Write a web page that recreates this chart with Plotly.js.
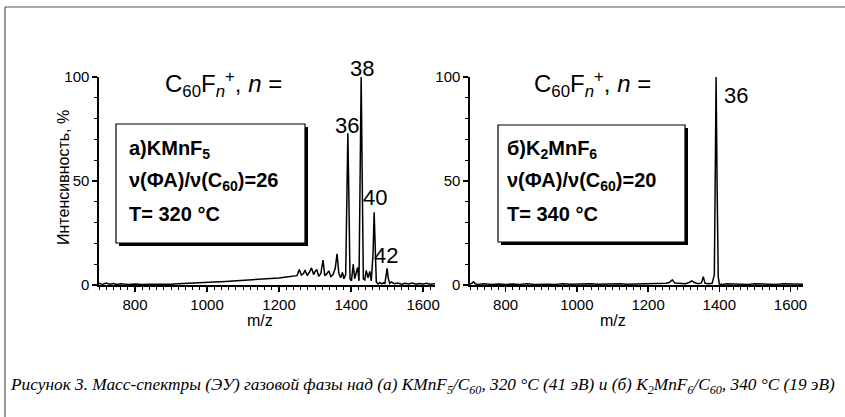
<!DOCTYPE html>
<html><head><meta charset="utf-8">
<script src="https://cdn.plot.ly/plotly-3.0.1.min.js"></script>
<style>html,body{margin:0;padding:0;background:#fff;}#chart{width:845px;height:417px;}</style>
</head><body><div id="chart"></div>
<script>
// Spectrum (a) KMnF5, 320 °C
const mzA = [700,710,720,730,740,750,760,780,800,820,840,860,880,900,920,940,960,980,1000,1020,1040,1060,1080,1100,1120,1140,1160,1180,1200,1220,1240,1250,1256,1262,1268,1272,1278,1284,1290,1296,1300,1305,1310,1316,1322,1327,1332,1338,1344,1350,1356,1361,1366,1371,1376,1380,1385,1388,1391,1394,1397,1401,1406,1410,1414,1418,1422,1425,1428,1431,1434,1438,1442,1447,1452,1456,1461,1464,1467,1470,1475,1480,1485,1490,1494,1497,1500,1503,1507,1512,1520,1530,1540,1550,1560,1570,1580,1590,1600,1610,1620,1633];
const intA = [0.8,0.3,0.9,0.4,0.7,0.2,0.6,0.3,0.5,0.2,0.4,0.3,0.5,0.4,0.6,0.7,0.9,1.0,1.2,1.4,1.6,1.8,2.0,2.3,2.5,2.8,3.0,3.1,3.4,3.8,4.2,4.5,7.5,4.8,5.5,7.2,4.6,6.0,8.2,5.0,6.5,7.4,4.2,5.5,12.0,4.5,5.2,6.8,4.0,5.0,8.0,15.0,5.5,3.5,6.0,3.0,5.0,35,73,40,3.0,2.0,10.0,3.0,6.0,8.5,2.0,40,100,50,3.0,2.5,7.0,3.5,6.5,2.0,15,35,18,1.5,0.5,1.2,0.5,1.0,0.8,4.0,8.0,3.5,0.8,1.5,0.6,1.0,0.4,0.8,0.5,0.9,0.4,0.7,0.5,0.8,0.4,0.6];
// Spectrum (б) K2MnF6, 340 °C
const mzB = [700,705,710,715,720,740,760,780,800,820,840,860,880,900,920,940,960,980,1000,1020,1040,1060,1080,1100,1120,1140,1160,1180,1200,1220,1240,1250,1260,1268,1275,1290,1305,1315,1323,1330,1340,1350,1355,1360,1370,1380,1386,1388,1391,1394,1397,1400,1410,1420,1440,1460,1480,1500,1520,1540,1560,1580,1600,1620,1635];
const intB = [0.5,0.8,1.5,0.6,0.3,0.6,0.3,0.5,0.2,0.5,0.3,0.6,0.3,0.5,0.4,0.3,0.6,0.4,0.5,0.3,0.6,0.4,0.5,0.3,0.6,0.4,0.5,0.7,0.5,0.6,0.8,0.8,1.2,2.5,1.0,0.8,0.6,1.2,2.0,1.2,0.6,1.0,4.0,0.8,0.6,0.8,5,40,100,45,4,0.5,0.3,0.6,0.4,0.5,0.3,0.6,0.4,0.5,0.3,0.6,0.4,0.5,0.4];
// Peak labels (n)
const peakLabelsA = ["36","38","40","42"];
const peakMzA = [1389,1431,1466,1498];
const peakLabelsB = ["36"];
const peakMzB = [1408];
const xTicks = [800,1000,1200,1400,1600];
const yTicks = [0,50,100];

const W = 845, H = 417;
const px = x => x / W;
const py = y => 1 - y / H;
const peakYA = [125, 69, 198, 256];   // label centres, px from top
const peakYB = [95];

const font = 'Liberation Sans, Arial, sans-serif';
const axisCommon = {
  showline: true, linecolor: 'black', linewidth: 1.6, mirror: false,
  ticks: 'outside', ticklen: 5, tickwidth: 1.5, tickcolor: 'black',
  showgrid: false, zeroline: false,
  tickfont: {family: font, size: 15, color: 'black'}
};
const xCommon = Object.assign({}, axisCommon, {
  tickmode: 'array', tickvals: xTicks,
  minor: {ticks: 'outside', ticklen: 3, tickwidth: 1, tickcolor: 'black', dtick: 20, tick0: 0, showgrid: false}
});
const yCommon = Object.assign({}, axisCommon, {
  range: [0, 100], tickvals: yTicks, tickmode: 'array',
  minor: {ticks: 'outside', ticklen: 3, tickwidth: 1, tickcolor: 'black', dtick: 10, tick0: 0, showgrid: false}
});

const traces = [
  {x: mzA, y: intA, type: 'scatter', mode: 'lines', line: {color: 'black', width: 1.5}, xaxis: 'x', yaxis: 'y', hoverinfo: 'skip'},
  {x: mzB, y: intB, type: 'scatter', mode: 'lines', line: {color: 'black', width: 1.5}, xaxis: 'x2', yaxis: 'y2', hoverinfo: 'skip'}
];

const annotations = [];
const lab = (xr, yr, x, y, text, opts) => Object.assign({
  xref: xr, yref: yr, x: x, y: y, text: text, showarrow: false,
  font: {family: font, size: 22, color: 'black'}, xanchor: 'center', yanchor: 'middle'
}, opts || {});

peakLabelsA.forEach((t, i) => annotations.push(lab('x', 'paper', peakMzA[i], py(peakYA[i]), t)));
peakLabelsB.forEach((t, i) => annotations.push(lab('x2', 'paper', peakMzB[i], py(peakYB[i]), t, {xanchor: 'left'})));

const formula = 'C<sub>60</sub>F<sub><i>n</i></sub><sup>+</sup>, <i>n</i> =';
annotations.push(lab('paper', 'paper', px(163), py(84), formula, {xanchor: 'left', font: {family: font, size: 24, color: 'black'}}));
annotations.push(lab('paper', 'paper', px(532), py(84), formula, {xanchor: 'left', font: {family: font, size: 24, color: 'black'}}));

const boxFont = {family: font, size: 20, color: 'black', weight: 'bold'};
const boxLines = [
  [px(127), ['a)KMnF<sub>5</sub>', 'ν(ФА)/ν(C<sub>60</sub>)=26', 'T= 320 °C']],
  [px(505), ['б)K<sub>2</sub>MnF<sub>6</sub>', 'ν(ФА)/ν(C<sub>60</sub>)=20', 'T= 340 °C']]
];
const lineY = [149, 182, 214];
boxLines.forEach(b => b[1].forEach((t, i) => annotations.push(
  lab('paper', 'paper', b[0], py(lineY[i]), '<b>' + t + '</b>', {xanchor: 'left', font: boxFont}))));

annotations.push(lab('paper', 'paper', px(63), py(178), 'Интенсивность, %',
  {textangle: -90, font: {family: font, size: 16, color: 'black'}}));
annotations.push(lab('paper', 'paper', px(260), py(320), 'm/z', {font: {family: font, size: 16, color: 'black'}}));
annotations.push(lab('paper', 'paper', px(613), py(320), 'm/z', {font: {family: font, size: 16, color: 'black'}}));

annotations.push(lab('paper', 'paper', px(8), py(386),
  'Рисунок 3. Масс-спектры (ЭУ) газовой фазы над (а) KMnF<sub>5</sub>/C<sub>60</sub>, 320 °C (41 эВ) и (б) K<sub>2</sub>MnF<sub>6</sub>/C<sub>60</sub>, 340 °C (19 эВ)',
  {xanchor: 'left', font: {family: 'Liberation Serif, Times New Roman, serif', size: 17.3, color: 'black', style: 'italic'}}));

const rect = (x0, y0, x1, y1, fill, lw) => ({
  type: 'rect', xref: 'paper', yref: 'paper', x0: px(x0), x1: px(x1), y0: py(y1), y1: py(y0),
  fillcolor: fill, line: {color: 'black', width: lw}, layer: 'above'
});
const shapes = [
  rect(119, 127, 308, 246, 'black', 0),
  rect(116, 124, 305, 243, 'white', 1.2),
  rect(501, 128, 688, 245, 'black', 0),
  rect(498, 125, 685, 242, 'white', 1.2),
  {type: 'line', xref: 'paper', yref: 'paper', x0: px(5), x1: px(845), y0: py(7), y1: py(7), line: {color: '#555', width: 1}},
  {type: 'line', xref: 'paper', yref: 'paper', x0: px(5), x1: px(5), y0: py(7), y1: py(417), line: {color: '#333', width: 1}}
];

const layout = {
  width: W, height: H, margin: {l: 0, r: 0, t: 0, b: 0},
  paper_bgcolor: 'white', plot_bgcolor: 'white', showlegend: false,
  xaxis: Object.assign({}, xCommon, {domain: [px(99), px(435)], range: [700, 1633], anchor: 'y'}),
  yaxis: Object.assign({}, yCommon, {domain: [py(285), py(77)], anchor: 'x'}),
  xaxis2: Object.assign({}, xCommon, {domain: [px(470), px(803)], range: [700, 1635], anchor: 'y2'}),
  yaxis2: Object.assign({}, yCommon, {domain: [py(285), py(77)], anchor: 'x2'}),
  annotations: annotations, shapes: shapes
};
Plotly.newPlot('chart', traces, layout, {displayModeBar: false, staticPlot: true});
</script></body></html>
